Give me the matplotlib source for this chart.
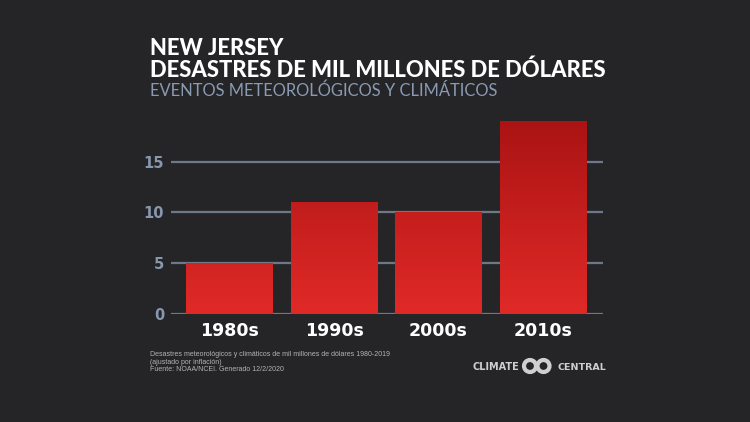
import matplotlib
matplotlib.use('Agg')
import matplotlib.pyplot as plt
import numpy as np
from matplotlib.colors import LinearSegmentedColormap
from matplotlib.patches import Circle

decades = ['1980s', '1990s', '2000s', '2010s']
counts = [5, 11, 10, 19]
yticks = [0, 5, 10, 15]

title1 = 'NEW JERSEY'
title2 = 'DESASTRES DE MIL MILLONES DE DÓLARES'
subtitle = 'EVENTOS METEOROLÓGICOS Y CLIMÁTICOS'
foot = ['Desastres meteorológicos y climáticos de mil millones de dólares 1980-2019',
        '(ajustado por inflación)',
        'Fuente: NOAA/NCEI. Generado 12/2/2020']

BG = '#252527'
W, H = 750, 422
fig = plt.figure(figsize=(7.5, 4.22), dpi=100, facecolor=BG)

def fx(px):
    return px / W

def fy(py):
    return 1 - py / H

ax = fig.add_axes([fx(171), fy(313.7), fx(432), 202.6 / H])
ax.set_facecolor(BG)
x = np.arange(len(decades))
XL = (-0.56, 3.574)
YL = (0, 20)

bars = ax.bar(x, counts, width=0.83, color='none', edgecolor='none', zorder=3)
cmap = LinearSegmentedColormap.from_list('redgrad', ['#e02a28', '#a81212'])
grad = np.linspace(0, 1, 256).reshape(-1, 1)
for b in bars:
    im = ax.imshow(grad, cmap=cmap, aspect='auto', origin='lower',
                   extent=(XL[0], XL[1], YL[0], YL[1]), zorder=3, vmin=0, vmax=1)
    im.set_clip_path(b)
ax.set_xlim(*XL)
ax.set_ylim(*YL)

ax.set_yticks(yticks)
ax.set_yticklabels([str(v) for v in yticks])
ax.set_xticks(x)
ax.set_xticklabels(decades)
ax.yaxis.grid(True, color='#6d7888', lw=1.6)
ax.set_axisbelow(True)
for s in ax.spines.values():
    s.set_visible(False)
ax.tick_params(axis='both', length=0)
ax.tick_params(axis='y', pad=5, labelcolor='#8797ad', labelsize=10.5)
ax.tick_params(axis='x', pad=6, labelcolor='white', labelsize=12.5)
for t in ax.get_yticklabels():
    t.set_fontweight('bold')
for t in ax.get_xticklabels():
    t.set_fontweight('bold')

tf = dict(family=['Lato', 'DejaVu Sans'], weight='black', color='white')
fig.text(fx(150), fy(55), title1, fontsize=15.8, va='baseline', ha='left', **tf)
fig.text(fx(150), fy(77), title2, fontsize=15.8, va='baseline', ha='left', **tf)
fig.text(fx(150), fy(95.5), subtitle, fontsize=11.9, va='baseline', ha='left',
         color='#8a9ab3', family=['Lato', 'DejaVu Sans'])

for i, line in enumerate(foot):
    fig.text(fx(150), fy(356 + i * 7.6), line, fontsize=5, va='baseline', ha='left',
             color='#b4b4b4', family=['Liberation Sans', 'DejaVu Sans'])

logo_c = '#cfcfcf'
fig.text(fx(519), fy(369.5), 'CLIMATE', fontsize=7, weight='bold', color=logo_c,
         ha='right', va='baseline', family='DejaVu Sans')
fig.text(fx(557), fy(369.5), 'CENTRAL', fontsize=6.8, weight='bold', color=logo_c,
         ha='left', va='baseline', family='DejaVu Sans')
for cx in (530, 543.5):
    c = Circle((cx, H - 366), 6.0, transform=None, fill=False, edgecolor=logo_c, lw=3)
    fig.patches.append(c)

fig.savefig('out.png', dpi=100, facecolor=BG)
